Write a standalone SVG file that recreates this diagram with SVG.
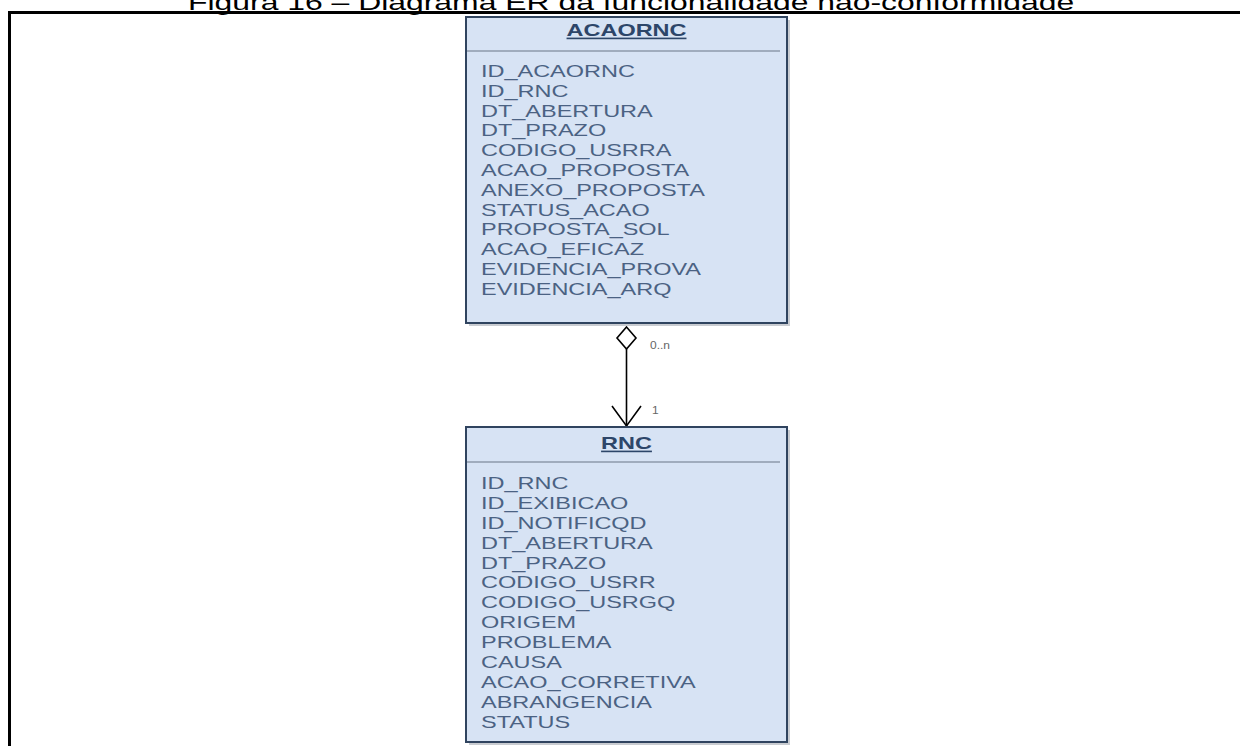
<svg xmlns="http://www.w3.org/2000/svg" width="1240" height="746" viewBox="0 0 1240 746">
<style>
  .frame { stroke: #000; stroke-width: 3; fill: none; }
  .title { font-family: "Liberation Sans", Arial, sans-serif; font-size: 22px; fill: #000; }
  .shadow { fill: #c9ccd1; }
  .box { fill: #d7e3f4; stroke: #30445f; stroke-width: 2; }
  .div { stroke: #8e9aab; stroke-width: 1.5; }
  .ent { font-family: "Liberation Sans", Arial, sans-serif; font-size: 16.2px; font-weight: bold; fill: #2d4669; text-decoration: underline; }
  .attr { font-family: "Liberation Sans", Arial, sans-serif; font-size: 16.2px; fill: #4b6283; }
  .conn { stroke: #000; stroke-width: 1.6; fill: none; }
  .diamond { stroke: #000; stroke-width: 1.6; fill: #fff; }
  .lbl { font-family: "Liberation Sans", Arial, sans-serif; font-size: 10px; fill: #666; }
</style>
<rect width="1240" height="746" fill="#fff"/>
<g id="frame">
  <line class="frame" x1="8" y1="12.5" x2="1240" y2="12.5"/>
  <line class="frame" x1="9.5" y1="11" x2="9.5" y2="746"/>
  <g transform="translate(188,9.5) scale(1.45,1)"><text class="title" x="0" y="0">Figura 16 – Diagrama ER da funcionalidade não-conformidade</text></g>
</g>
<g id="connectors">
  <line class="conn" x1="626.5" y1="349" x2="626.5" y2="426"/>
  <path class="diamond" d="M626.5,327 L636,338 L626.5,349 L617,338 Z"/>
  <path class="conn" d="M612,406 L626.5,426 L641,406"/>
  <g transform="translate(650,349) scale(1.2,1)"><text class="lbl" x="0" y="0">0..n</text></g>
  <g transform="translate(652,414) scale(1.2,1)"><text class="lbl" x="0" y="0">1</text></g>
</g>
<g id="node-acaornc">
  <rect class="shadow" x="469" y="20" width="321" height="306"/>
  <rect class="box" x="466" y="17" width="321" height="306"/>
  <line class="div" x1="467" y1="51" x2="780" y2="51"/>
  <g transform="translate(626.5,36) scale(1.45,1)"><text class="ent" x="0" y="0" text-anchor="middle">ACAORNC</text></g>
  <g transform="translate(481,0) scale(1.45,1)">
    <text class="attr" x="0" y="77">ID_ACAORNC</text>
    <text class="attr" x="0" y="96.8">ID_RNC</text>
    <text class="attr" x="0" y="116.6">DT_ABERTURA</text>
    <text class="attr" x="0" y="136.4">DT_PRAZO</text>
    <text class="attr" x="0" y="156.2">CODIGO_USRRA</text>
    <text class="attr" x="0" y="176">ACAO_PROPOSTA</text>
    <text class="attr" x="0" y="195.8">ANEXO_PROPOSTA</text>
    <text class="attr" x="0" y="215.6">STATUS_ACAO</text>
    <text class="attr" x="0" y="235.4">PROPOSTA_SOL</text>
    <text class="attr" x="0" y="255.2">ACAO_EFICAZ</text>
    <text class="attr" x="0" y="275">EVIDENCIA_PROVA</text>
    <text class="attr" x="0" y="294.8">EVIDENCIA_ARQ</text>
  </g>
</g>
<g id="node-rnc">
  <rect class="shadow" x="469" y="430" width="321" height="315"/>
  <rect class="box" x="466" y="427" width="321" height="315"/>
  <line class="div" x1="467" y1="462" x2="780" y2="462"/>
  <g transform="translate(626.5,449) scale(1.45,1)"><text class="ent" x="0" y="0" text-anchor="middle">RNC</text></g>
  <g transform="translate(481,0) scale(1.45,1)">
    <text class="attr" x="0" y="489">ID_RNC</text>
    <text class="attr" x="0" y="508.9">ID_EXIBICAO</text>
    <text class="attr" x="0" y="528.8">ID_NOTIFICQD</text>
    <text class="attr" x="0" y="548.7">DT_ABERTURA</text>
    <text class="attr" x="0" y="568.6">DT_PRAZO</text>
    <text class="attr" x="0" y="588.5">CODIGO_USRR</text>
    <text class="attr" x="0" y="608.4">CODIGO_USRGQ</text>
    <text class="attr" x="0" y="628.3">ORIGEM</text>
    <text class="attr" x="0" y="648.2">PROBLEMA</text>
    <text class="attr" x="0" y="668.1">CAUSA</text>
    <text class="attr" x="0" y="688">ACAO_CORRETIVA</text>
    <text class="attr" x="0" y="707.9">ABRANGENCIA</text>
    <text class="attr" x="0" y="727.8">STATUS</text>
  </g>
</g>
</svg>
